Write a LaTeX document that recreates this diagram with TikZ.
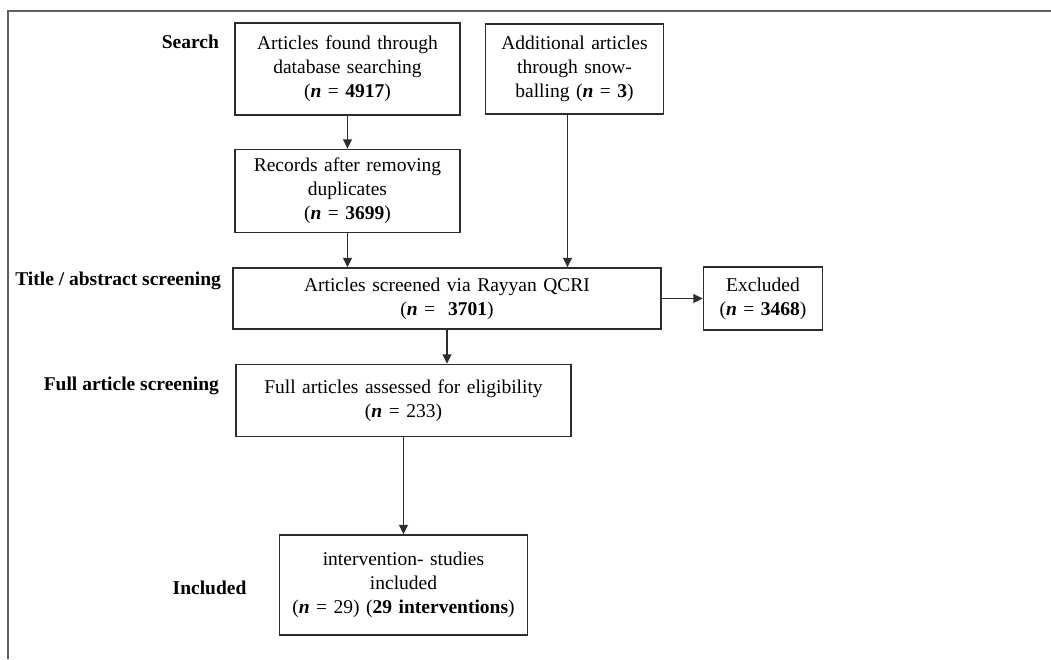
\documentclass[tikz,border=0pt]{standalone}
\usepackage{fontspec}
\setmainfont{Liberation Serif}
\usepackage{tikz}
\usetikzlibrary{arrows.meta,positioning}
\definecolor{boxline}{RGB}{45,45,45}
\definecolor{framegray}{RGB}{95,95,95}
\newcommand{\nvar}{\textbf{\textit{n}}}

\begin{document}
\begin{tikzpicture}[x=0.6pt, y=-0.6pt,
  font=\fontsize{11.7pt}{14.4pt}\selectfont,
  box/.style={draw=boxline, line width=0.9pt, align=center, inner sep=0pt},
  lbl/.style={font=\fontsize{11.7pt}{14.4pt}\selectfont\bfseries, inner sep=0pt},
  arr/.style={-{Triangle[length=5.6pt, width=5.2pt]}, line width=0.9pt, draw=boxline}]
  \useasboundingbox (0,0) rectangle (1051,659);
  \draw[framegray, line width=1.3pt] (1051,11) -- (8,11) -- (8,659);
  % boxes
  \node[box, text width=135pt, minimum height=55.2pt] (found) at (347.5,69)
    {Articles found through\\ database searching\\ (\nvar{} = \textbf{4917})};
  \node[box, text width=106.8pt, minimum height=54pt, right=14.4pt of found] (snow)
    {Additional articles\\ through snow-\\ balling (\nvar{} = \textbf{3})};
  \node[box, text width=135pt, minimum height=49.8pt, below=19.8pt of found] (dupl)
    {Records after removing\\ duplicates\\ (\nvar{} = \textbf{3699})};
  \node[box, text width=256.8pt, minimum height=36.6pt, below=20.4pt of dupl.south west,
    anchor=north west, xshift=-1.2pt] (screen)
    {Articles screened via Rayyan QCRI\\ (\nvar{} = \ \textbf{3701})};
  \node[box, text width=71.4pt, minimum height=37.8pt, right=24.6pt of screen] (excl)
    {Excluded\\ (\nvar{} = \textbf{3468})};
  \node[box, text width=201pt, minimum height=43.2pt, below=20.4pt of screen.south west,
    anchor=north west, xshift=1.8pt] (full)
    {Full articles assessed for eligibility\\ (\nvar{} = 233)};
  \node[box, text width=148.8pt, minimum height=60pt, below=58.2pt of full] (incl)
    {intervention- studies\\ included\\ (\nvar{} = 29) (\textbf{29 interventions})};
  % stage labels
  \node[lbl, left=9pt of found.north west, anchor=east, yshift=-12pt] (lsearch) {Search};
  \node[lbl, left=6.6pt of screen.north west, anchor=east, yshift=-8.4pt] (ltitle) {Title / abstract screening};
  \node[lbl, left=9.6pt of full.north west, anchor=east, yshift=-13.2pt] (lfull) {Full article screening};
  \node[lbl, left=19.2pt of incl, yshift=-1.8pt] (lincl) {Included};
  % arrows
  \coordinate (snowout) at ([xshift=-4.2pt]snow.south);
  \draw[arr] (found) -- (dupl);
  \draw[arr] (snowout) -- (snowout |- screen.north);
  \draw[arr] (dupl.south) -- (dupl.south |- screen.north);
  \draw[arr] (screen.east) -- (excl.west |- screen.east);
  \draw[arr] (screen.south) -- (screen.south |- full.north);
  \draw[arr] (full.south) -- (full.south |- incl.north);
\end{tikzpicture}
\end{document}
